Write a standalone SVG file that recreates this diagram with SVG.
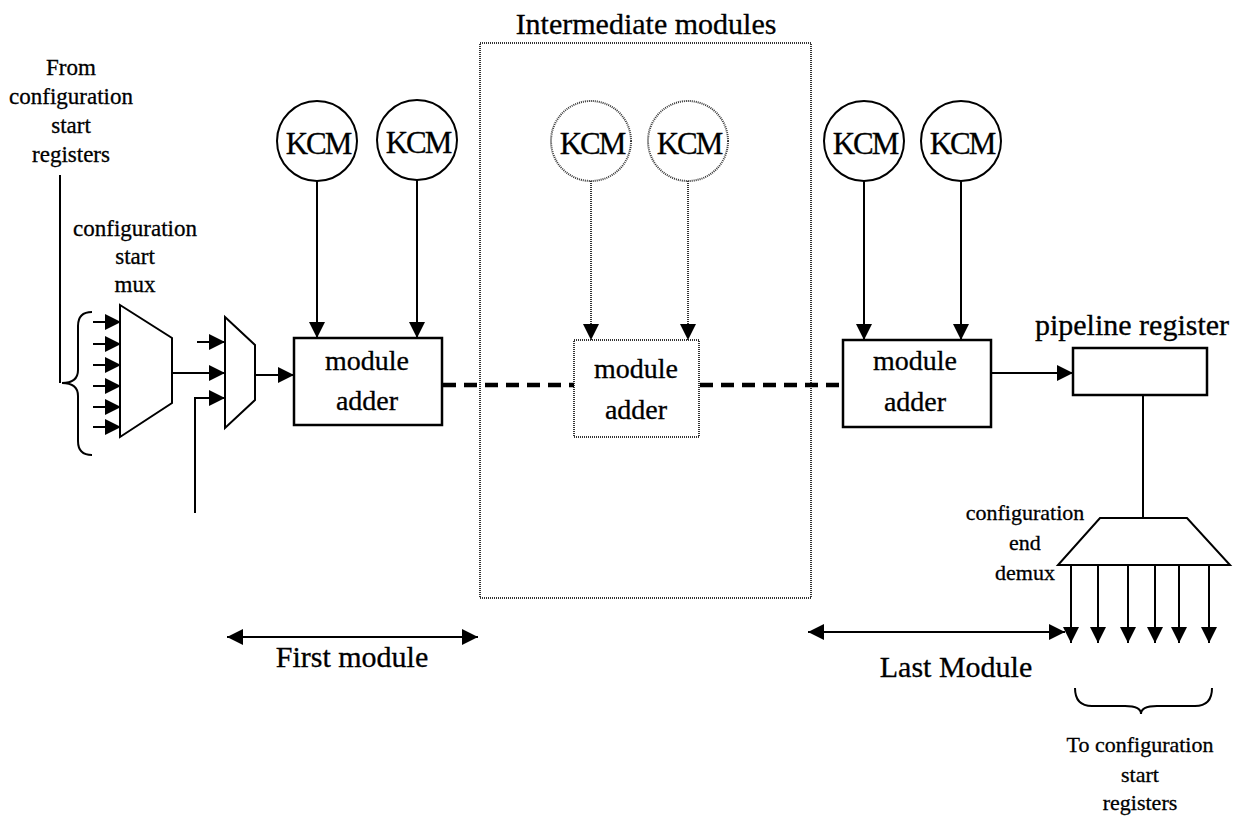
<svg xmlns="http://www.w3.org/2000/svg" width="1242" height="819" viewBox="0 0 1242 819">
  <style>
    .ln { stroke: #000; stroke-width: 2; fill: none; }
    .box { stroke: #000; stroke-width: 2.5; fill: #fff; }
    .dot { stroke: #333; stroke-width: 2; stroke-dasharray: 1 1; fill: none; }
    .dotbox { stroke: #333; stroke-width: 2; stroke-dasharray: 1 1; fill: #fff; }
    .dash { stroke: #000; stroke-width: 4.5; stroke-dasharray: 13 8; fill: none; }
    .arr { marker-end: url(#ah); }
    .dbl { marker-start: url(#ah); marker-end: url(#ah); }
    .t { font-family: "Liberation Serif", "Tinos", "Times New Roman", "DejaVu Serif", serif; fill: #000; stroke: #000; stroke-width: 0.3; text-anchor: middle; }
    .s22 { font-size: 22px; }
    .s23 { font-size: 23px; }
    .s28 { font-size: 28px; }
    .s30 { font-size: 30px; }
    .kcm { font-size: 31px; letter-spacing: -2px; }
  </style>
  <defs>
    <marker id="ah" viewBox="0 0 16 16" markerWidth="16" markerHeight="16" refX="16" refY="8" orient="auto-start-reverse" markerUnits="userSpaceOnUse">
      <path d="M0,0 L16,8 L0,16 Z" fill="#000"/>
    </marker>
  </defs>

  <rect width="1242" height="819" fill="#fff"/>

  <!-- intermediate section frame -->
  <g id="intermediate-frame">
    <rect class="dot" x="480" y="43" width="331" height="555"/>
    <text class="t s30" x="646" y="34" font-family="Liberation Serif, serif">Intermediate modules</text>
  </g>

  <!-- input side labels -->
  <g id="start-registers-label" font-family="Liberation Serif, serif">
    <text class="t s23" x="71" y="75">From</text>
    <text class="t s23" x="71" y="104">configuration</text>
    <text class="t s23" x="71" y="133">start</text>
    <text class="t s23" x="71" y="162">registers</text>
  </g>

  <g id="start-mux">
    <text class="t s23" x="135" y="236">configuration</text>
    <text class="t s23" x="135" y="264">start</text>
    <text class="t s23" x="135" y="292">mux</text>
    <path class="ln" d="M120,305 L172,338 L172,403 L120,437 Z" fill="#fff"/>
  </g>

  <g id="select-mux">
    <path class="ln" d="M225,317 L255,345 L255,400 L225,428 Z" fill="#fff"/>
  </g>

  <!-- first module -->
  <g id="kcm-1a">
    <circle class="ln" cx="317" cy="141" r="40"/>
    <text class="t kcm" x="318" y="154">KCM</text>
  </g>
  <g id="kcm-1b">
    <circle class="ln" cx="417" cy="140" r="40"/>
    <text class="t kcm" x="418" y="153">KCM</text>
  </g>
  <g id="adder-1">
    <rect class="box" x="294" y="338" width="148" height="87"/>
    <text class="t s28" x="367" y="370">module</text>
    <text class="t s28" x="367" y="410">adder</text>
  </g>

  <!-- intermediate module -->
  <g id="kcm-2a">
    <circle class="dot" cx="591" cy="141" r="40"/>
    <text class="t kcm" x="592" y="154">KCM</text>
  </g>
  <g id="kcm-2b">
    <circle class="dot" cx="688" cy="141" r="40"/>
    <text class="t kcm" x="689" y="154">KCM</text>
  </g>
  <g id="adder-2">
    <rect class="dotbox" x="574" y="340" width="125" height="97"/>
    <text class="t s28" x="636" y="378">module</text>
    <text class="t s28" x="636" y="419">adder</text>
  </g>

  <!-- last module -->
  <g id="kcm-3a">
    <circle class="ln" cx="864" cy="141" r="40"/>
    <text class="t kcm" x="865" y="154">KCM</text>
  </g>
  <g id="kcm-3b">
    <circle class="ln" cx="961" cy="141" r="40"/>
    <text class="t kcm" x="962" y="154">KCM</text>
  </g>
  <g id="adder-3">
    <rect class="box" x="843" y="340" width="148" height="87"/>
    <text class="t s28" x="915" y="370">module</text>
    <text class="t s28" x="915" y="411">adder</text>
  </g>

  <g id="pipeline-register">
    <text class="t s30" x="1132" y="335">pipeline register</text>
    <rect class="box" x="1073" y="348" width="134" height="47"/>
  </g>

  <g id="end-demux">
    <path class="ln" d="M1100,518 L1187,518 L1230,565 L1058,565 Z" fill="#fff"/>
    <text class="t s22" x="1025" y="520">configuration</text>
    <text class="t s22" x="1025" y="550">end</text>
    <text class="t s22" x="1025" y="580">demux</text>
  </g>

  <g id="span-labels">
    <text class="t s30" x="352" y="667">First module</text>
    <text class="t s30" x="956" y="677">Last Module</text>
  </g>

  <g id="return-label">
    <text class="t s22" x="1140" y="752">To configuration</text>
    <text class="t s22" x="1140" y="782">start</text>
    <text class="t s22" x="1140" y="810">registers</text>
  </g>

  <!-- wiring -->
  <g id="connectors">
    <!-- feed from start registers -->
    <line class="ln" x1="60" y1="175" x2="60" y2="383"/>
    <path class="ln" d="M92,312 Q78,312 78,326 L78,370 Q78,383 62,383 Q78,383 78,396 L78,441 Q78,455 92,455"/>
    <line class="ln arr" x1="93" y1="322" x2="121" y2="322"/>
    <line class="ln arr" x1="93" y1="344" x2="121" y2="344"/>
    <line class="ln arr" x1="93" y1="365" x2="121" y2="365"/>
    <line class="ln arr" x1="93" y1="386" x2="121" y2="386"/>
    <line class="ln arr" x1="93" y1="407" x2="121" y2="407"/>
    <line class="ln arr" x1="93" y1="427" x2="121" y2="427"/>

    <!-- mux chain -->
    <line class="ln arr" x1="172" y1="373" x2="225" y2="373"/>
    <line class="ln arr" x1="197" y1="342" x2="225" y2="342"/>
    <polyline class="ln arr" points="195,513 195,398 225,398"/>
    <line class="ln arr" x1="255" y1="375" x2="294" y2="375"/>

    <!-- coefficient multipliers into adders -->
    <line class="ln arr" x1="317" y1="181" x2="317" y2="338"/>
    <line class="ln arr" x1="417" y1="180" x2="417" y2="338"/>
    <line class="dot arr" x1="591" y1="181" x2="591" y2="340"/>
    <line class="dot arr" x1="688" y1="181" x2="688" y2="340"/>
    <line class="ln arr" x1="864" y1="181" x2="864" y2="340"/>
    <line class="ln arr" x1="961" y1="181" x2="961" y2="340"/>

    <!-- adder chain -->
    <line class="dash" x1="443" y1="385" x2="574" y2="385"/>
    <line class="dash" x1="700" y1="385" x2="843" y2="385"/>
    <line class="ln arr" x1="991" y1="373" x2="1073" y2="373"/>
    <line class="ln" x1="1143" y1="395" x2="1143" y2="518"/>

    <!-- demux outputs -->
    <line class="ln arr" x1="1071" y1="565" x2="1071" y2="643"/>
    <line class="ln arr" x1="1098" y1="565" x2="1098" y2="643"/>
    <line class="ln arr" x1="1128" y1="565" x2="1128" y2="643"/>
    <line class="ln arr" x1="1155" y1="565" x2="1155" y2="643"/>
    <line class="ln arr" x1="1179" y1="565" x2="1179" y2="643"/>
    <line class="ln arr" x1="1209" y1="565" x2="1209" y2="643"/>
    <path class="ln" d="M1075,688 Q1075,706 1092,706 L1125,706 Q1141,706 1141,714 Q1141,706 1157,706 L1195,706 Q1212,706 1212,688"/>

    <!-- module spans -->
    <line class="ln dbl" x1="227" y1="637" x2="478" y2="637"/>
    <line class="ln dbl" x1="808" y1="632" x2="1065" y2="632"/>
  </g>
</svg>
